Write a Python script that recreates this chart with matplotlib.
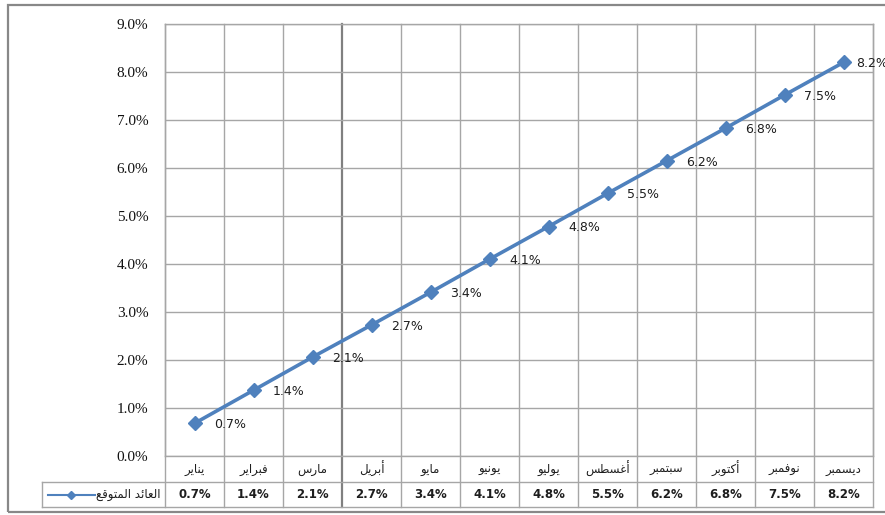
import numpy as np
import matplotlib
matplotlib.use("Agg")
from matplotlib import pyplot as plt
from matplotlib.patches import Rectangle
import matplotlib.transforms as mtransforms

months = ['يناير', 'فبراير', 'مارس', 'أبريل', 'مايو', 'يونيو',
          'يوليو', 'أغسطس', 'سبتمبر', 'أكتوبر', 'نوفمبر', 'ديسمبر']
returns = [0.68, 1.37, 2.06, 2.73, 3.41, 4.10, 4.78, 5.47, 6.15, 6.83, 7.52, 8.20]  # [%]
series_name = 'العائد المتوقع'
yticks = np.arange(0, 10, 1)

# arabic contextual forms: isolated, final, initial, medial
FORMS = {
    'ا': (0xFE8D, 0xFE8E, None, None), 'أ': (0xFE83, 0xFE84, None, None),
    'ب': (0xFE8F, 0xFE90, 0xFE91, 0xFE92), 'ت': (0xFE95, 0xFE96, 0xFE97, 0xFE98),
    'د': (0xFEA9, 0xFEAA, None, None), 'ر': (0xFEAD, 0xFEAE, None, None),
    'س': (0xFEB1, 0xFEB2, 0xFEB3, 0xFEB4), 'ط': (0xFEC1, 0xFEC2, 0xFEC3, 0xFEC4),
    'ع': (0xFEC9, 0xFECA, 0xFECB, 0xFECC), 'غ': (0xFECD, 0xFECE, 0xFECF, 0xFED0),
    'ف': (0xFED1, 0xFED2, 0xFED3, 0xFED4), 'ق': (0xFED5, 0xFED6, 0xFED7, 0xFED8),
    'ك': (0xFED9, 0xFEDA, 0xFEDB, 0xFEDC), 'ل': (0xFEDD, 0xFEDE, 0xFEDF, 0xFEE0),
    'م': (0xFEE1, 0xFEE2, 0xFEE3, 0xFEE4), 'ن': (0xFEE5, 0xFEE6, 0xFEE7, 0xFEE8),
    'و': (0xFEED, 0xFEEE, None, None), 'ي': (0xFEF1, 0xFEF2, 0xFEF3, 0xFEF4),
    'ئ': (0xFE89, 0xFE8A, 0xFE8B, 0xFE8C),
}

def shape(text):
    out = []
    for i, c in enumerate(text):
        if c not in FORMS:
            out.append(c)
            continue
        prev = text[i - 1] if i > 0 else None
        nxt = text[i + 1] if i + 1 < len(text) else None
        j_prev = prev in FORMS and FORMS[prev][2] is not None
        j_next = nxt in FORMS and FORMS[c][2] is not None
        iso, fin, ini, med = FORMS[c]
        if j_prev and j_next:
            g = med
        elif j_prev:
            g = fin
        elif j_next:
            g = ini
        else:
            g = iso
        out.append(chr(g))
    return ''.join(reversed(out))

blue = '#4F81BD'
grid_c = '#A6A6A6'
txt_c = '#1E1E1E'

W, H = 885, 515
fig = plt.figure(figsize=(W / 100, H / 100), dpi=100)
ax = fig.add_axes([165 / W, 1 - 456 / H, 708 / W, 432 / H])

x = np.arange(len(months))
ax.plot(x, returns, color=blue, linewidth=2.6, marker='D', markersize=7.5, zorder=5)
for i, (xi, v) in enumerate(zip(x, returns)):
    dx = 9 if i == len(x) - 1 else 14
    ax.annotate(f'{v:.1f}%', (xi, v), xytext=(dx, -1), textcoords='offset points',
                ha='left', va='center', fontsize=9, color=txt_c, family='DejaVu Sans', zorder=6)

ax.set_xlim(-0.5, len(months) - 0.5)
ax.set_ylim(0, 9)
ax.set_yticks(yticks)
ax.set_yticklabels([f'{t:.1f}%' for t in yticks], family='Liberation Serif',
                   fontsize=11, color='#111111')
ax.set_xticks([])
ax.tick_params(axis='y', length=0, pad=12)
ax.yaxis.grid(True, color=grid_c, linewidth=1)
for s in ax.spines.values():
    s.set_color(grid_c)
    s.set_linewidth(1)

# vertical category lines, running down through the data table
row1 = 26 / 432
row2 = 51 / 432
trans = mtransforms.blended_transform_factory(ax.transData, ax.transAxes)
for b in np.arange(-0.5, len(months), 1.0):
    dark = b == 2.5
    ax.plot([b, b], [-row2, 1], transform=trans, clip_on=False,
            color='#808080' if dark else grid_c, linewidth=1.6 if dark else 1, zorder=1)

# data table
left = (42 - 165) / 708
ax.plot([left, 1], [-row1, -row1], transform=ax.transAxes, clip_on=False, color=grid_c, lw=1)
ax.plot([left, 1], [-row2, -row2], transform=ax.transAxes, clip_on=False, color=grid_c, lw=1)
ax.plot([left, left], [-row1, -row2], transform=ax.transAxes, clip_on=False, color=grid_c, lw=1)

for xi, m, v in zip(x, months, returns):
    ax.text(xi, -row1 / 2, shape(m), transform=trans, ha='center', va='center',
            fontsize=8.5, color=txt_c, family='DejaVu Sans')
    ax.text(xi, -(row1 + row2) / 2, f'{v:.1f}%', transform=trans, ha='center', va='center',
            fontsize=8.5, color=txt_c, family='DejaVu Sans', fontweight='bold')

# legend key inside the table
ym = -(row1 + row2) / 2
lx0, lx1 = (48 - 165) / 708, (95 - 165) / 708
ax.plot([lx0, lx1], [ym, ym], transform=ax.transAxes, clip_on=False, color=blue, lw=1.5)
ax.plot([(lx0 + lx1) / 2], [ym], transform=ax.transAxes, clip_on=False,
        color=blue, marker='D', markersize=4.5)
ax.text((160 - 165) / 708, ym, shape(series_name), transform=ax.transAxes, ha='right',
        va='center', fontsize=8.5, color=txt_c, family='DejaVu Sans')

# chart frame
fig.patches.append(Rectangle((8 / W, 1 - 512 / H), 900 / W, (512 - 5) / H,
                             transform=fig.transFigure, fill=False, edgecolor='#888888', lw=1.6))

fig.savefig('out.png', dpi=100)
